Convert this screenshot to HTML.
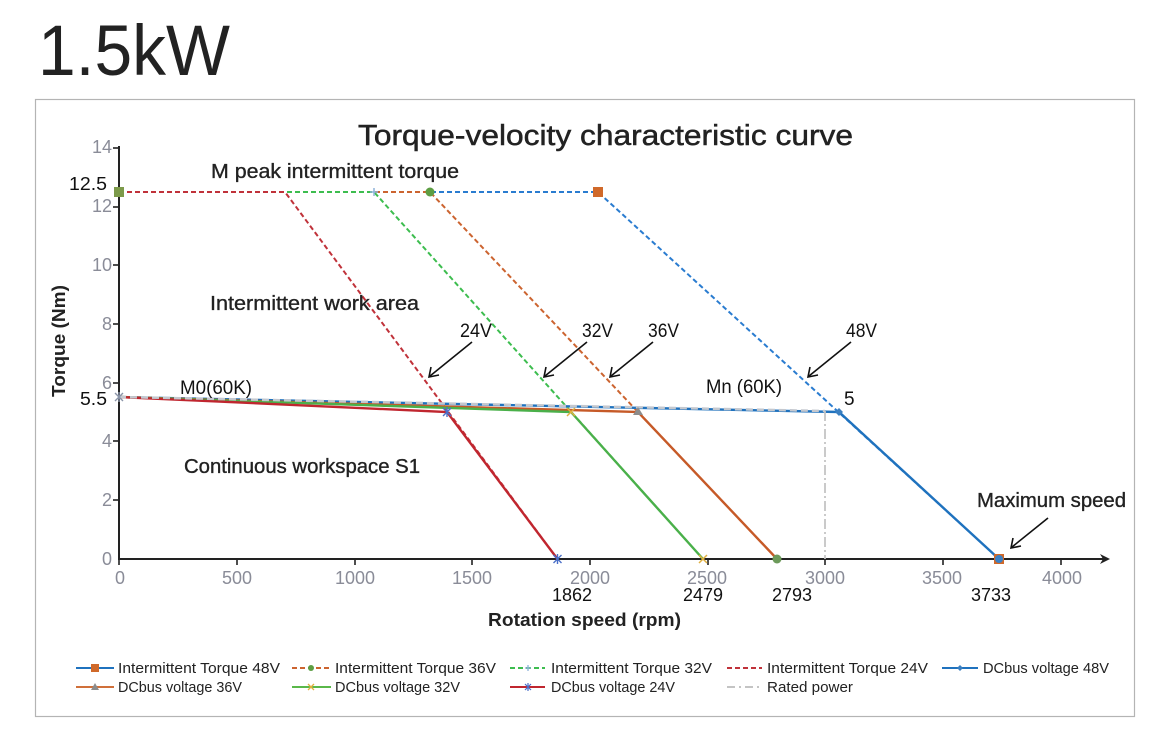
<!DOCTYPE html>
<html><head><meta charset="utf-8"><style>
html,body{margin:0;padding:0;background:#fff;}
svg{display:block;}
text{font-family:"Liberation Sans",sans-serif;}
</style></head><body>
<svg width="1164" height="744" viewBox="0 0 1164 744" xmlns="http://www.w3.org/2000/svg">
<rect width="1164" height="744" fill="#fff"/>
<text x="38" y="75" font-size="71" fill="#222" textLength="192" lengthAdjust="spacingAndGlyphs">1.5kW</text>
<rect x="35.5" y="99.5" width="1099" height="617" fill="none" stroke="#b4b4b4" stroke-width="1.2"/>
<text x="358" y="145" font-size="29" fill="#222" stroke="#222" stroke-width="0.5" textLength="495" lengthAdjust="spacingAndGlyphs">Torque-velocity characteristic curve</text>

<!-- y tick labels -->
<g font-size="18" fill="#8a8c98" text-anchor="end">
<text x="112" y="153">14</text>
<text x="112" y="212">12</text>
<text x="112" y="271">10</text>
<text x="112" y="330">8</text>
<text x="112" y="389">6</text>
<text x="112" y="447">4</text>
<text x="112" y="506">2</text>
<text x="112" y="565">0</text>
</g>
<text x="69" y="190" font-size="18" fill="#111" textLength="38" lengthAdjust="spacingAndGlyphs">12.5</text>
<text x="80" y="405" font-size="18" fill="#111" textLength="27" lengthAdjust="spacingAndGlyphs">5.5</text>
<text transform="translate(65,341) rotate(-90)" text-anchor="middle" font-size="18" font-weight="bold" fill="#222" textLength="112" lengthAdjust="spacingAndGlyphs">Torque (Nm)</text>

<!-- x tick labels -->
<g font-size="18" fill="#8a8c98" text-anchor="middle">
<text x="120" y="584">0</text>
<text x="237" y="584">500</text>
<text x="355" y="584">1000</text>
<text x="472" y="584">1500</text>
<text x="590" y="584">2000</text>
<text x="707" y="584">2500</text>
<text x="825" y="584">3000</text>
<text x="942" y="584">3500</text>
<text x="1062" y="584">4000</text>
</g>
<g font-size="18" fill="#111" text-anchor="middle">
<text x="572" y="601">1862</text>
<text x="703" y="601">2479</text>
<text x="792" y="601">2793</text>
<text x="991" y="601">3733</text>
</g>
<text x="488" y="626" font-size="18" font-weight="bold" fill="#222" textLength="193" lengthAdjust="spacingAndGlyphs">Rotation speed (rpm)</text>

<!-- axes -->
<g stroke="#222" stroke-width="2">
<line x1="119" y1="146" x2="119" y2="560"/>
<line x1="118" y1="559" x2="1104" y2="559"/>
</g>
<g stroke="#222" stroke-width="1.6">
<line x1="113" y1="148" x2="119" y2="148"/>
<line x1="113" y1="207" x2="119" y2="207"/>
<line x1="113" y1="265" x2="119" y2="265"/>
<line x1="113" y1="324" x2="119" y2="324"/>
<line x1="113" y1="383" x2="119" y2="383"/>
<line x1="113" y1="441" x2="119" y2="441"/>
<line x1="113" y1="500" x2="119" y2="500"/>
<line x1="237" y1="559" x2="237" y2="565"/>
<line x1="355" y1="559" x2="355" y2="565"/>
<line x1="472" y1="559" x2="472" y2="565"/>
<line x1="590" y1="559" x2="590" y2="565"/>
<line x1="708" y1="559" x2="708" y2="565"/>
<line x1="825" y1="559" x2="825" y2="565"/>
<line x1="943" y1="559" x2="943" y2="565"/>
<line x1="1061" y1="559" x2="1061" y2="565"/>
<line x1="119" y1="559" x2="119" y2="565"/>
</g>
<path d="M1110,559 L1100,554 L1103,559 L1100,564 Z" fill="#222"/>

<!-- Intermittent series (dashed) -->
<g fill="none" stroke-width="2" stroke-dasharray="5,3">
<polyline points="119,192 598,192 999,559" stroke="#2a7cd0"/>
<polyline points="119,192 430,192 777,559" stroke="#cc6430"/>
<polyline points="119,192 374,192 703,559" stroke="#3dbd4f"/>
<polyline points="119,192 285,192 557.5,559" stroke="#c0323a"/>
</g>
<!-- DCbus series (solid) -->
<g fill="none" stroke-width="2.4">
<polyline points="119,397 839,412 999,559" stroke="#1f72be"/>
<polyline points="119,397 638,412 777,559" stroke="#c65a28"/>
<polyline points="119,397 571,412 703,559" stroke="#4ab04a"/>
<polyline points="119,397 447,412 557.5,559" stroke="#c0262f"/>
</g>
<!-- Rated power -->
<polyline points="119,397 825,411" fill="none" stroke="#c4c8cf" stroke-width="2.5" stroke-dasharray="7,4"/>
<line x1="825" y1="411" x2="825" y2="559" stroke="#c4c4c4" stroke-width="1.8" stroke-dasharray="10,3,2,3"/>

<!-- markers -->
<rect x="114" y="187" width="10" height="10" fill="#7c9a4a"/>
<rect x="593" y="187" width="10" height="10" fill="#d0692a"/>
<rect x="994" y="554" width="10" height="10" fill="#d0692a"/>
<circle cx="430" cy="192" r="4.5" fill="#5d9e43"/>
<circle cx="777" cy="559" r="4.5" fill="#6c9a5a"/>
<path d="M370,192 h8 M374,188 v8" stroke="#8fb4da" stroke-width="1.5"/>
<path d="M835,412 l4,-4 l4,4 l-4,4 z" fill="#3b7fc0"/>
<circle cx="999" cy="559" r="4" fill="#3b80c4"/>
<path d="M638,407 l5,8 h-10 z" fill="#8c8c8c"/>
<path d="M567,408 l8,8 M575,408 l-8,8" stroke="#e0b040" stroke-width="1.5"/>
<path d="M699,555 l8,8 M707,555 l-8,8" stroke="#e0b040" stroke-width="1.5"/>
<path d="M443,408 l8,8 M451,408 l-8,8 M447,407 v10" stroke="#4a6fc8" stroke-width="1.4"/>
<path d="M553.5,555 l8,8 M561.5,555 l-8,8 M557.5,554 v10" stroke="#4a6fc8" stroke-width="1.4"/>
<path d="M115,393 l8,8 M123,393 l-8,8 M119,392 v10" stroke="#8a94a8" stroke-width="1.4"/>

<!-- annotations -->
<g fill="#222" stroke="#222" stroke-width="0.35">
<text x="211" y="178" font-size="20" textLength="248" lengthAdjust="spacingAndGlyphs">M peak intermittent torque</text>
<text x="210" y="310" font-size="20" textLength="209" lengthAdjust="spacingAndGlyphs">Intermittent work area</text>
<text x="184" y="473" font-size="20" textLength="236" lengthAdjust="spacingAndGlyphs">Continuous workspace S1</text>
<text x="977" y="507" font-size="20" textLength="149" lengthAdjust="spacingAndGlyphs">Maximum speed</text>
</g>
<g fill="#111" font-size="19">
<text x="180" y="394" textLength="72" lengthAdjust="spacingAndGlyphs">M0(60K)</text>
<text x="706" y="393" textLength="76" lengthAdjust="spacingAndGlyphs">Mn (60K)</text>
<text x="844" y="405">5</text>
<text x="460" y="337" textLength="32" lengthAdjust="spacingAndGlyphs">24V</text>
<text x="582" y="337" textLength="31" lengthAdjust="spacingAndGlyphs">32V</text>
<text x="648" y="337" textLength="31" lengthAdjust="spacingAndGlyphs">36V</text>
<text x="846" y="337" textLength="31" lengthAdjust="spacingAndGlyphs">48V</text>
</g>
<!-- arrows -->
<g stroke="#111" stroke-width="1.6" fill="none">
<line x1="472" y1="342" x2="430" y2="376"/>
<polyline points="431,367 429,377 439,375"/>
<line x1="587" y1="342" x2="545" y2="376"/>
<polyline points="546,367 544,377 554,375"/>
<line x1="653" y1="342" x2="611" y2="376"/>
<polyline points="612,367 610,377 620,375"/>
<line x1="851" y1="342" x2="809" y2="376"/>
<polyline points="810,367 808,377 818,375"/>
<line x1="1048" y1="518" x2="1012" y2="547"/>
<polyline points="1013,538 1011,548 1021,546"/>
</g>

<!-- legend -->
<g stroke-width="2" fill="none">
<line x1="76" y1="668" x2="114" y2="668" stroke="#1f72be"/>
<line x1="292" y1="668" x2="331" y2="668" stroke="#cc6430" stroke-dasharray="5,3"/>
<line x1="510" y1="668" x2="545" y2="668" stroke="#3dbd4f" stroke-dasharray="5,3"/>
<line x1="727" y1="668" x2="762" y2="668" stroke="#c0323a" stroke-dasharray="5,3"/>
<line x1="942" y1="668" x2="978" y2="668" stroke="#1f72be"/>
<line x1="76" y1="687" x2="114" y2="687" stroke="#d0703a"/>
<line x1="292" y1="687" x2="331" y2="687" stroke="#5ab84a"/>
<line x1="510" y1="687" x2="545" y2="687" stroke="#c0262f"/>
<line x1="727" y1="687" x2="762" y2="687" stroke="#c4c4c4" stroke-dasharray="8,4,2,4"/>
</g>
<rect x="91" y="664" width="8" height="8" fill="#d0692a"/>
<circle cx="311" cy="668" r="3" fill="#5d9e43"/>
<path d="M525,668 h6 M528,665 v6" stroke="#8fb4da" stroke-width="1.3"/>
<path d="M957,668 l3,-3 l3,3 l-3,3 z" fill="#3b7fc0"/>
<path d="M95,683 l4,7 h-8 z" fill="#8c8c8c"/>
<path d="M308,684 l6,6 M314,684 l-6,6" stroke="#e0b040" stroke-width="1.3"/>
<path d="M525,684 l6,6 M531,684 l-6,6 M528,683 v8" stroke="#4a6fc8" stroke-width="1.2"/>
<g font-size="15" fill="#222">
<text x="118" y="673" textLength="162" lengthAdjust="spacingAndGlyphs">Intermittent Torque 48V</text>
<text x="335" y="673" textLength="161" lengthAdjust="spacingAndGlyphs">Intermittent Torque 36V</text>
<text x="551" y="673" textLength="161" lengthAdjust="spacingAndGlyphs">Intermittent Torque 32V</text>
<text x="767" y="673" textLength="161" lengthAdjust="spacingAndGlyphs">Intermittent Torque 24V</text>
<text x="983" y="673" textLength="126" lengthAdjust="spacingAndGlyphs">DCbus voltage 48V</text>
<text x="118" y="692" textLength="124" lengthAdjust="spacingAndGlyphs">DCbus voltage 36V</text>
<text x="335" y="692" textLength="125" lengthAdjust="spacingAndGlyphs">DCbus voltage 32V</text>
<text x="551" y="692" textLength="124" lengthAdjust="spacingAndGlyphs">DCbus voltage 24V</text>
<text x="767" y="692" textLength="86" lengthAdjust="spacingAndGlyphs">Rated power</text>
</g>
</svg>
</body></html>
